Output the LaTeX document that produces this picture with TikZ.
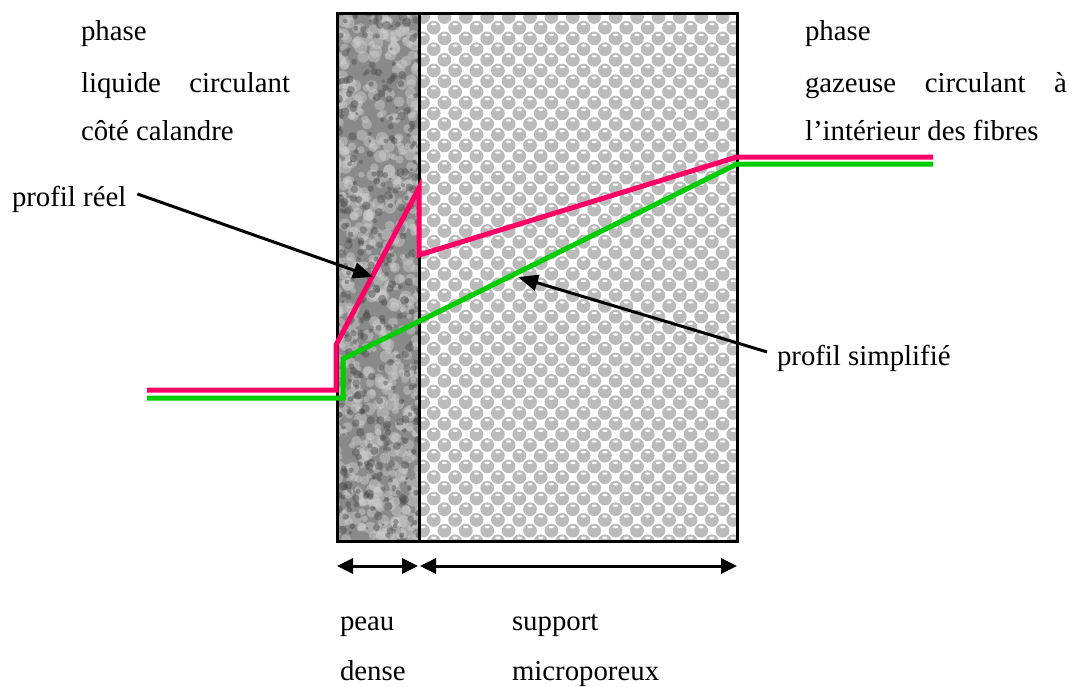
\documentclass[tikz,border=0pt]{standalone}
\usepackage{fontspec}
\setmainfont{Liberation Serif}
\usetikzlibrary{arrows.meta}
\definecolor{ink}{HTML}{000000}
\definecolor{reel}{HTML}{FF0066}
\definecolor{simple}{HTML}{00CC00}
\definecolor{skin}{HTML}{8A8A8A}
\definecolor{skindark}{HTML}{4A4A4A}
\definecolor{skinlight}{HTML}{D0D0D0}
\definecolor{bead}{HTML}{BBBBBB}

\begin{document}
\begin{tikzpicture}[x=0.5pt,y=-0.5pt,
  lbl/.style={anchor=base west,inner sep=0pt,outer sep=0pt,font=\fontsize{14.4}{17}\selectfont},
  prof/.style={line width=2.5pt,line join=miter},
  ptr/.style={-{Triangle[length=10pt,width=8pt]},line width=1.5pt,draw=ink},
  dimarr/.style={{Triangle[length=8pt,width=7.5pt]}-{Triangle[length=8pt,width=7.5pt]},line width=1.5pt,draw=ink}]
  \useasboundingbox (0,0) rectangle (1076,686);
  % dense skin texture
  \begin{scope}
    \clip (337,13) rectangle (419,541);
    \fill[skin] (337,13) rectangle (419,541);
    \pgfmathsetseed{17}
    \foreach \i in {1,...,650}{
      \pgfmathsetmacro\bx{333+90*rnd}
      \pgfmathsetmacro\by{9+536*rnd}
      \pgfmathsetmacro\br{2.5+4*rnd}
      \fill[skinlight,opacity=0.45] (\bx,\by) circle[radius=\br];
    }
    \foreach \i in {1,...,400}{
      \pgfmathsetmacro\bx{333+90*rnd}
      \pgfmathsetmacro\by{9+536*rnd}
      \pgfmathsetmacro\br{1.5+3*rnd}
      \fill[skindark,opacity=0.45] (\bx,\by) circle[radius=\br];
    }
  \end{scope}
  % microporous support texture
  \begin{scope}
    \clip (419,13) rectangle (737,541);
    \foreach \i in {0,...,15}{
      \foreach \j in {0,...,25}{
        \fill[bead] (423+\i*21.4,17+\j*21.4) circle[radius=6.9];
        \fill[bead] (433.7+\i*21.4,27.7+\j*21.4) circle[radius=6.9];
        \fill[white] (423+\i*21.4,13.5+\j*21.4) ellipse[x radius=2.6,y radius=1.2];
        \fill[white] (433.7+\i*21.4,24.2+\j*21.4) ellipse[x radius=2.6,y radius=1.2];
      }
    }
  \end{scope}
  % frame
  \draw[ink,line width=1.5pt] (337,13) rectangle (737,541);
  \draw[ink,line width=1.5pt] (419,13) -- (419,541);

  % profiles
  \coordinate (g0) at (147,398);
  \coordinate (g1) at (343,398);
  \coordinate (g2) at (343,359);
  \coordinate (g3) at (737,164);
  \coordinate (g4) at (933,164);
  \coordinate (r0) at (147,390);
  \coordinate (r1) at (336,390);
  \coordinate (r2) at (336,345);
  \coordinate (r3) at (419,188);
  \coordinate (r4) at (419,255);
  \coordinate (r5) at (737,157);
  \coordinate (r6) at (933,157);
  \draw[prof,simple] (g0) -- (g1) -- (g2) -- (g3) -- (g4);
  \draw[prof,reel] (r0) -- (r1) -- (r2) -- (r3) -- (r4) -- (r5) -- (r6);

  % labels
  \node[lbl] (lphase) at (81,40) {phase};
  \node[lbl] (lliq) at (81,92) {\makebox[104.5pt][s]{liquide circulant}};
  \node[lbl] (lcal) at (81,140) {côté calandre};
  \node[lbl] (gphase) at (805,40) {phase};
  \node[lbl] (ggaz) at (805,92) {\makebox[131pt][s]{gazeuse circulant à}};
  \node[lbl] (gfib) at (805,140) {l’intérieur des fibres};
  \node[lbl] (preel) at (12,206) {profil réel};
  \node[lbl] (psimp) at (777,365) {profil simplifié};
  \node[lbl] (peau) at (340,630) {peau};
  \node[lbl] (dense) at (340,680) {dense};
  \node[lbl] (supp) at (512,630) {support};
  \node[lbl] (micro) at (512,680) {microporeux};

  \coordinate (reeltip) at (373,277);
  \coordinate (simptip) at (518,277);
  \draw[ptr] ([xshift=5.5pt,yshift=2.5pt]preel.east) -- (reeltip);
  \draw[ptr] ([xshift=-5pt,yshift=3pt]psimp.west) -- (simptip);

  % thickness arrows
  \coordinate (a0) at (337,566);
  \coordinate (a1) at (418,566);
  \coordinate (a2) at (420,566);
  \coordinate (a3) at (737,566);
  \draw[dimarr] (a0) -- (a1);
  \draw[dimarr] (a2) -- (a3);
\end{tikzpicture}
\end{document}
